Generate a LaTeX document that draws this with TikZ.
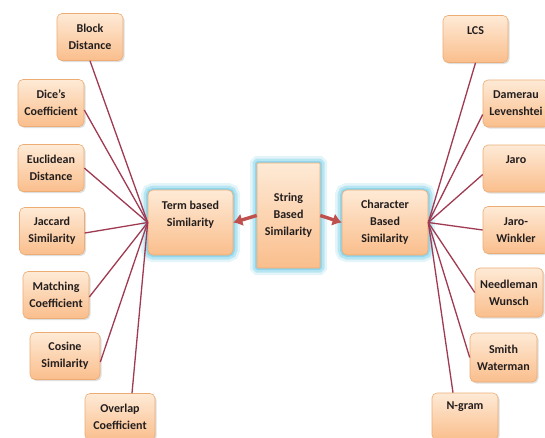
\documentclass[tikz,border=0pt]{standalone}
\usepackage{fontspec}
\setmainfont{Carlito}
\usetikzlibrary{shadows,arrows.meta}
\definecolor{boxdraw}{RGB}{236,172,115}
\definecolor{boxtop}{RGB}{254,234,214}
\definecolor{boxbot}{RGB}{250,190,140}
\definecolor{linkc}{RGB}{160,58,82}
\definecolor{arrc}{RGB}{192,80,77}
\definecolor{glowc}{RGB}{120,205,232}
\definecolor{txt}{RGB}{35,30,30}
\tikzset{
  box/.style={rectangle, rounded corners=5pt, draw=boxdraw, line width=0.6pt,
    top color=boxtop, bottom color=boxbot, align=center, text=txt,
    font=\fontsize{12}{17}\selectfont\bfseries, inner sep=1pt,
    minimum width=66pt, minimum height=47pt},
  shad/.style={drop shadow={opacity=0.25,shadow xshift=1.5pt,shadow yshift=-1.5pt}},
  glow/.style={preaction={draw=glowc, line width=14pt, opacity=0.2},
               preaction={draw=glowc, line width=9pt, opacity=0.4},
               preaction={draw=glowc, line width=4pt, opacity=0.6}},
  link/.style={draw=linkc, line width=1.3pt},
  arr/.style={draw=arrc, line width=3.4pt, -{Latex[length=9pt,width=13pt]}}
}
\begin{document}
\begin{tikzpicture}[x=1pt,y=1pt]
\useasboundingbox (0,0) rectangle (545,-437);
\fill[white] (0,0) rectangle (545,-437);
\clip (0,0) rectangle (545,-437);
% left column
\node[box,shad] (bd) at (90,-37) {Block\\Distance};
\node[box,shad] (dc) at (51,-103) {Dice's\\Coefficient};
\node[box,shad] (ed) at (51,-168) {Euclidean\\Distance};
\node[box,shad,minimum width=65pt] (js) at (52,-231) {Jaccard\\Similarity};
\node[box,shad] (mc) at (56,-295) {Matching\\Coefficient};
\node[box,shad,minimum width=70pt] (cs) at (65,-356) {Cosine\\Similarity};
\node[box,shad,minimum width=70pt] (oc) at (120,-417) {Overlap\\Coefficient};
% centre
\node[box,glow,minimum width=85pt,minimum height=65pt] (term) at (190.5,-222.5) {Term based\\Similarity\\\mbox{}};
\node[box,glow,rounded corners=1pt,minimum width=63pt,minimum height=105pt] (str) at (288.5,-215.5) {String\\Based\\Similarity};
\node[box,glow,minimum width=86pt,minimum height=65pt] (chr) at (385,-222.5) {Character\\Based\\Similarity};
% right column
\node[box,shad,minimum width=65pt] (lcs) at (475.5,-39) {LCS\\\mbox{}};
\node[box,shad] (dl) at (516,-103.5) {Damerau\\Levenshtei};
\node[box,shad] (jaro) at (516,-168.5) {Jaro\\\mbox{}};
\node[box,shad] (jw) at (516,-230) {Jaro-\\Winkler};
\node[box,shad,minimum width=68pt,minimum height=49pt] (nw) at (509,-292.5) {Needleman\\Wunsch};
\node[box,shad,minimum width=67pt,minimum height=49pt] (sw) at (503.5,-357.5) {Smith\\Waterman};
\node[box,shad] (ng) at (465,-416.5) {N-gram\\[4pt]\mbox{}};
% connectors left
\draw[link] (term.west) -- (bd.south);
\draw[link] (term.west) -- ([yshift=-7pt]dc.east);
\draw[link] (term.west) -- (ed.east);
\draw[link] (term.west) -- ([yshift=-2pt]js.east);
\draw[link] (term.west) -- ([yshift=-2pt]mc.east);
\draw[link] (term.west) -- ([yshift=-6pt]cs.east);
\draw[link] (term.west) -- ([xshift=12pt]oc.north);
% connectors right
\draw[link] (chr.east) -- (lcs.south);
\draw[link] (chr.east) -- ([yshift=-11pt]dl.west);
\draw[link] (chr.east) -- ([yshift=-6pt]jaro.west);
\draw[link] (chr.east) -- (jw.west);
\draw[link] (chr.east) -- (nw.west);
\draw[link] (chr.east) -- (sw.west);
\draw[link] (chr.east) -- ([xshift=-12pt]ng.north);
% arrows
\draw[arr] (str.west) -- (term.east);
\draw[arr] (str.east) -- (chr.west);
\end{tikzpicture}
\end{document}
